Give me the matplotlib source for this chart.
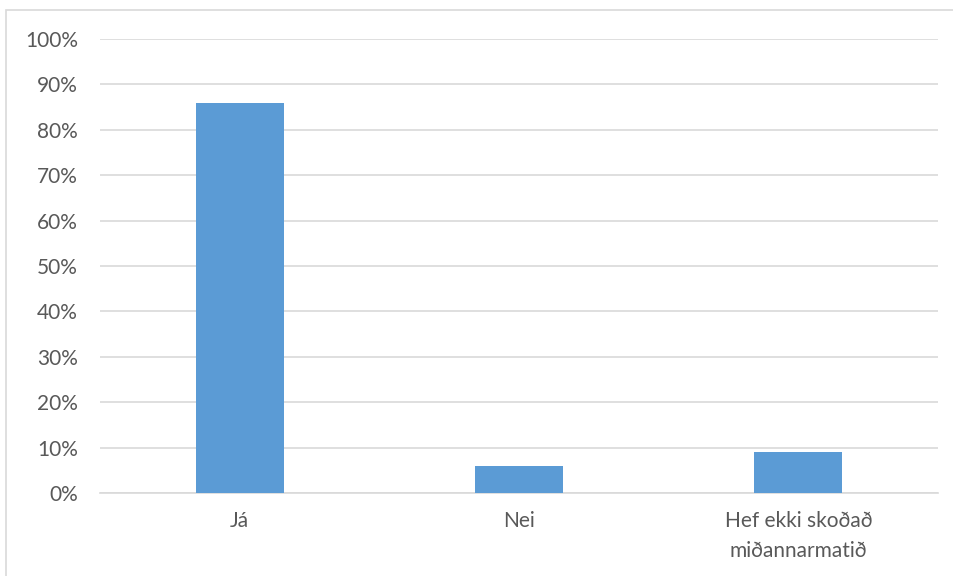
import numpy as np
import matplotlib.pyplot as plt
from matplotlib.patches import Rectangle
from matplotlib.ticker import PercentFormatter

categories = ["Já", "Nei", "Hef ekki skoðað\nmiðannarmatið"]
values = [86, 6, 9]
yticks = list(range(0, 101, 10))

plt.rcParams['font.family'] = ['Lato', 'DejaVu Sans']

fig = plt.figure(figsize=(9.54, 5.76), dpi=100)
ax = fig.add_axes([100/954, 1 - 493/576, 838/954, 454/576])

x = np.arange(len(categories))
ax.bar(x, values, width=0.315, color='#5B9BD5', zorder=3)

ax.set_xlim(-0.5, len(categories) - 0.5)
ax.set_ylim(0, 100)
ax.set_yticks(yticks)
ax.yaxis.set_major_formatter(PercentFormatter(decimals=0))
ax.set_xticks(x)
ax.set_xticklabels(categories, linespacing=1.65)

ax.grid(axis='y', color='#D9D9D9', linewidth=1.2, zorder=0)
for s in ['top', 'right', 'left']:
    ax.spines[s].set_visible(False)
ax.spines['bottom'].set_color('#D9D9D9')
ax.spines['bottom'].set_linewidth(1.2)
ax.tick_params(axis='both', length=0, labelsize=15, colors='#595959')
ax.tick_params(axis='x', pad=13)
ax.tick_params(axis='y', pad=16)

# outer chart border
fig.add_artist(Rectangle((6/954, -0.01), 1.0, 1 - 10/576 + 0.01,
                         transform=fig.transFigure, fill=False,
                         edgecolor='#D9D9D9', linewidth=1.2))

fig.savefig('out.png', dpi=100)
